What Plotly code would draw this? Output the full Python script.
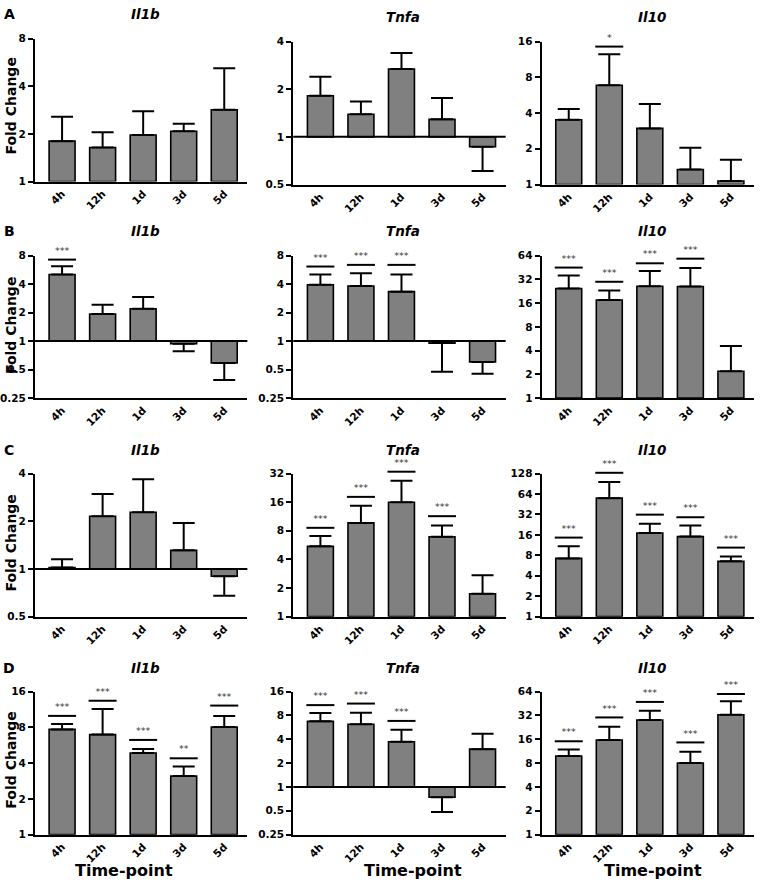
import math
import plotly.graph_objects as go

timepoints = ["4h", "12h", "1d", "3d", "5d"]
genes = ["Il1b", "Tnfa", "Il10"]
row_letters = ["A", "B", "C", "D"]

# ---- Row A ----
a_il1b_mean = [1.80, 1.64, 1.97, 2.08, 2.84]
a_il1b_err = [2.57, 2.05, 2.78, 2.32, 5.20]
a_il1b_sig = [None, None, None, None, None]
a_il1b_sigy = [None, None, None, None, None]
a_il1b_ticks = [1, 2, 4, 8]

a_tnfa_mean = [1.82, 1.39, 2.68, 1.29, 0.866]
a_tnfa_err = [2.40, 1.67, 3.39, 1.76, 0.609]
a_tnfa_sig = [None, None, None, None, None]
a_tnfa_sigy = [None, None, None, None, None]
a_tnfa_ticks = [0.5, 1, 2, 4]

a_il10_mean = [3.51, 6.86, 2.97, 1.34, 1.07]
a_il10_err = [4.33, 12.5, 4.77, 2.04, 1.62]
a_il10_sig = [None, "*", None, None, None]
a_il10_sigy = [None, 14.5, None, None, None]
a_il10_ticks = [1, 2, 4, 8, 16]

# ---- Row B ----
b_il1b_mean = [5.05, 1.93, 2.20, 0.937, 0.589]
b_il1b_err = [6.18, 2.42, 2.93, 0.78, 0.388]
b_il1b_sig = ["***", None, None, None, None]
b_il1b_sigy = [7.25, None, None, None, None]
b_il1b_ticks = [0.25, 0.5, 1, 2, 4, 8]

b_tnfa_mean = [3.94, 3.82, 3.33, 0.953, 0.603]
b_tnfa_err = [5.05, 5.22, 5.05, 0.474, 0.452]
b_tnfa_sig = ["***", "***", "***", None, None]
b_tnfa_sigy = [6.13, 6.38, 6.38, None, None]
b_tnfa_ticks = [0.25, 0.5, 1, 2, 4, 8]

b_il10_mean = [24.5, 17.5, 26.2, 26.0, 2.19]
b_il10_err = [35.7, 23.1, 40.9, 44.7, 4.56]
b_il10_sig = ["***", "***", "***", "***", None]
b_il10_sigy = [45.1, 29.8, 51.1, 58.5, None]
b_il10_ticks = [1, 2, 4, 8, 16, 32, 64]

# ---- Row C ----
c_il1b_mean = [1.02, 2.15, 2.28, 1.31, 0.90]
c_il1b_err = [1.15, 2.97, 3.69, 1.95, 0.678]
c_il1b_sig = [None, None, None, None, None]
c_il1b_sigy = [None, None, None, None, None]
c_il1b_ticks = [0.5, 1, 2, 4]

c_tnfa_mean = [5.49, 9.69, 16.0, 6.93, 1.74]
c_tnfa_err = [7.05, 14.7, 26.9, 9.08, 2.72]
c_tnfa_sig = ["***", "***", "***", "***", None]
c_tnfa_sigy = [8.6, 18.2, 33.5, 11.4, None]
c_tnfa_ticks = [1, 2, 4, 8, 16, 32]

c_il10_mean = [7.21, 55.6, 17.1, 15.1, 6.52]
c_il10_err = [10.9, 96.0, 23.3, 22.0, 7.71]
c_il10_sig = ["***", "***", "***", "***", "***"]
c_il10_sigy = [14.6, 131.5, 31.8, 29.1, 10.4]
c_il10_ticks = [1, 2, 4, 8, 16, 32, 64, 128]

# ---- Row D ----
d_il1b_mean = [7.69, 6.95, 4.86, 3.11, 8.04]
d_il1b_err = [8.52, 11.4, 5.25, 3.74, 9.99]
d_il1b_sig = ["***", "***", "***", "**", "***"]
d_il1b_sigy = [9.99, 13.4, 6.27, 4.39, 12.2]
d_il1b_ticks = [1, 2, 4, 8, 16]

d_tnfa_mean = [6.74, 6.18, 3.73, 0.742, 3.0]
d_tnfa_err = [8.57, 8.64, 5.27, 0.483, 4.7]
d_tnfa_sig = ["***", "***", "***", None, None]
d_tnfa_sigy = [10.8, 11.3, 6.82, None, None]
d_tnfa_ticks = [0.25, 0.5, 1, 2, 4, 8, 16]

d_il10_mean = [9.84, 15.7, 28.0, 8.04, 32.6]
d_il10_err = [11.9, 23.1, 36.6, 11.1, 48.3]
d_il10_sig = ["***", "***", "***", "***", "***"]
d_il10_sigy = [15.1, 30.2, 47.4, 14.6, 59.7]
d_il10_ticks = [1, 2, 4, 8, 16, 32, 64]

panels = [
    (a_il1b_mean, a_il1b_err, a_il1b_sig, a_il1b_sigy, a_il1b_ticks),
    (a_tnfa_mean, a_tnfa_err, a_tnfa_sig, a_tnfa_sigy, a_tnfa_ticks),
    (a_il10_mean, a_il10_err, a_il10_sig, a_il10_sigy, a_il10_ticks),
    (b_il1b_mean, b_il1b_err, b_il1b_sig, b_il1b_sigy, b_il1b_ticks),
    (b_tnfa_mean, b_tnfa_err, b_tnfa_sig, b_tnfa_sigy, b_tnfa_ticks),
    (b_il10_mean, b_il10_err, b_il10_sig, b_il10_sigy, b_il10_ticks),
    (c_il1b_mean, c_il1b_err, c_il1b_sig, c_il1b_sigy, c_il1b_ticks),
    (c_tnfa_mean, c_tnfa_err, c_tnfa_sig, c_tnfa_sigy, c_tnfa_ticks),
    (c_il10_mean, c_il10_err, c_il10_sig, c_il10_sigy, c_il10_ticks),
    (d_il1b_mean, d_il1b_err, d_il1b_sig, d_il1b_sigy, d_il1b_ticks),
    (d_tnfa_mean, d_tnfa_err, d_tnfa_sig, d_tnfa_sigy, d_tnfa_ticks),
    (d_il10_mean, d_il10_err, d_il10_sig, d_il10_sigy, d_il10_ticks),
]

W, H = 760, 887
FONT = "DejaVu Sans"
EXT = 24  # extra px above each panel for the significance overlay axis
col_px = [(33, 246), (292, 505), (541, 754)]
row_px = [[(33, 178), (36, 181), (36, 181)],
          [(253, 397.5)] * 3,
          [(474, 619)] * 3,
          [(695, 840)] * 3]
title_py = [[8.5, 11.5, 11.5], [228.5] * 3, [450] * 3, [671] * 3]
letter_py = [8.5, 228.5, 450, 671]
fold_py = [101, 323.5, 544, 764]
time_px = [122.5, 412.5, 652.5]

fig = go.Figure()
layout = dict(width=W, height=H, margin=dict(l=0, r=0, t=0, b=0),
              paper_bgcolor="white", plot_bgcolor="rgba(0,0,0,0)",
              showlegend=False, annotations=[], shapes=[])

xs = list(range(len(timepoints)))
NP = len(panels)
for k, (mean, err, sig, sigy, ticks) in enumerate(panels):
    r, c = divmod(k, 3)
    n = k + 1
    xa, ya, ya2 = f"x{n}", f"y{n}", f"y{n + NP}"
    xname = "xaxis" if n == 1 else f"xaxis{n}"
    yname = "yaxis" if n == 1 else f"yaxis{n}"
    y2name = f"yaxis{n + NP}"
    x0, x1 = col_px[c]
    top, bot = row_px[r][c]
    lo, hi = math.log10(min(ticks)), math.log10(max(ticks))

    up = [max(e - m, 0) for m, e in zip(mean, err)]
    down = [max(m - e, 0) for m, e in zip(mean, err)]
    fig.add_trace(go.Bar(
        x=xs, y=[m - 1 for m in mean], base=1, width=0.64,
        marker=dict(color="#808080", line=dict(color="black", width=1.6)),
        error_y=dict(type="data", symmetric=False, array=up, arrayminus=down,
                     color="black", thickness=2, width=11),
        xaxis=xa, yaxis=ya, hoverinfo="skip"))

    sx = [i for i, s in zip(xs, sig) if s]
    sy = [v for s, v in zip(sig, sigy) if s]
    st = [s for s in sig if s]
    if sx:
        fig.add_trace(go.Scatter(
            x=sx, y=sy, mode="markers", cliponaxis=False,
            marker=dict(symbol="line-ew", size=20, color="black",
                        line=dict(color="black", width=2)),
            xaxis=xa, yaxis=ya2, hoverinfo="skip"))
        fig.add_trace(go.Scatter(
            x=sx, y=sy, mode="markers+text", text=st,
            textposition="top center", cliponaxis=False,
            marker=dict(size=4, color="rgba(0,0,0,0)"),
            textfont=dict(family=FONT, size=9.5, color="#333333"),
            xaxis=xa, yaxis=ya2, hoverinfo="skip"))

    layout[xname] = dict(
        domain=[x0 / W, x1 / W], anchor=ya, range=[-0.67, 4.57],
        tickvals=xs, ticktext=timepoints, tickangle=-45,
        showline=True, linecolor="black", linewidth=2, ticks="",
        showgrid=False, zeroline=False,
        tickfont=dict(family=FONT, size=10.5, color="black", weight="bold"))
    layout[yname] = dict(
        domain=[1 - bot / H, 1 - top / H], anchor=xa, type="log",
        range=[lo, hi],
        tickvals=ticks, ticktext=[f"{t:g}" for t in ticks],
        showline=True, linecolor="black", linewidth=2,
        ticks="outside", ticklen=5, tickwidth=2, tickcolor="black",
        showgrid=False, zeroline=False,
        tickfont=dict(family=FONT, size=10.5, color="black", weight="bold"))
    # invisible axis with identical scale, extended upward
    layout[y2name] = dict(
        domain=[1 - bot / H, 1 - (top - EXT) / H], anchor=xa, type="log",
        range=[lo, hi + EXT * (hi - lo) / (bot - top)], visible=False)

    if min(ticks) < 1:
        layout["shapes"].append(dict(
            type="line", xref=f"{xa} domain", x0=0, x1=1, yref=ya, y0=1, y1=1,
            line=dict(color="black", width=2)))

    layout["annotations"].append(dict(
        text=genes[c], xref=xa, x=2, xshift=2, yref="paper",
        y=1 - title_py[r][c] / H, yanchor="middle", showarrow=False,
        font=dict(family=FONT, size=13.5, color="black", weight="bold",
                  style="italic")))

for r, letter in enumerate(row_letters):
    layout["annotations"].append(dict(
        text=letter, xref="paper", x=7.5 / W, yref="paper",
        y=1 - letter_py[r] / H, yanchor="middle", xanchor="center",
        showarrow=False,
        font=dict(family=FONT, size=14, color="black", weight="bold")))
    layout["annotations"].append(dict(
        text="Fold Change", xref="paper", x=9 / W, yref="paper",
        y=1 - fold_py[r] / H, yanchor="middle", xanchor="center",
        textangle=-90, showarrow=False,
        font=dict(family=FONT, size=14, color="black", weight="bold")))

for c in range(3):
    layout["annotations"].append(dict(
        text="Time-point", xref="paper", x=time_px[c] / W, yref="paper",
        y=1 - 876.5 / H, yanchor="middle", xanchor="center",
        showarrow=False,
        font=dict(family=FONT, size=16, color="black", weight="bold")))

fig.update_layout(**layout)
fig.write_html(
    "out.html",
    config={"displayModeBar": False},
    post_script="document.body.style.margin='0px';"
                "document.documentElement.style.overflow='hidden';")
